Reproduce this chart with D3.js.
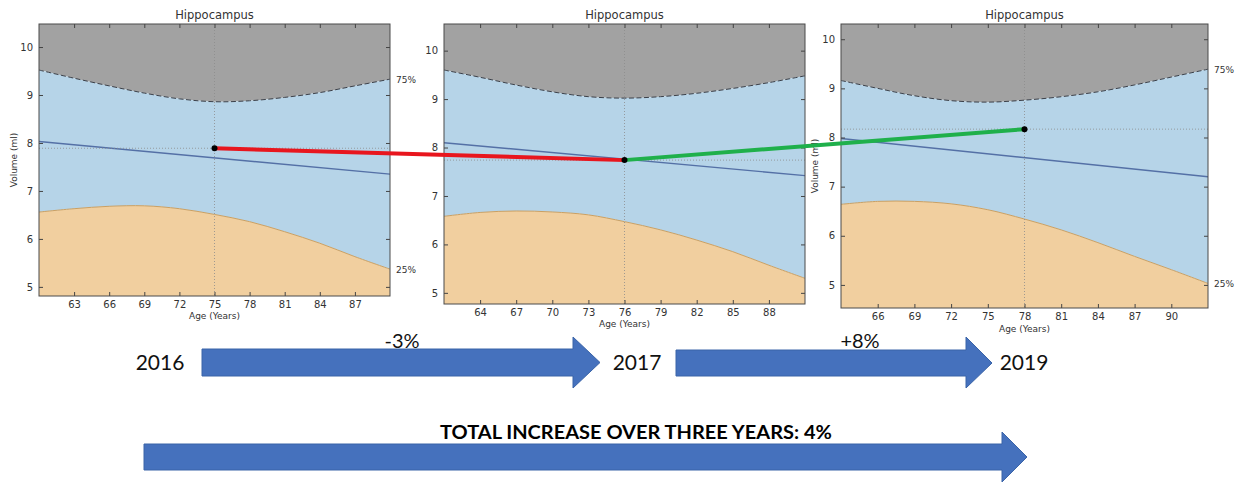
<!DOCTYPE html>
<html>
<head>
<meta charset="utf-8">
<script src="https://cdn.jsdelivr.net/npm/d3@7/dist/d3.min.js"></script>
<style>
  body { margin: 0; background: #fff; }
  svg { display: block; }
</style>
</head>
<body>
<svg id="chart" width="1253" height="483"></svg>
<script>
const ages2016 = [60, 63, 66, 69, 72, 75, 78, 81, 84, 87, 90];
const upper2016 = [9.52, 9.35, 9.19, 9.04, 8.92, 8.86, 8.88, 8.95, 9.05, 9.19, 9.33];
const lower2016 = [6.56, 6.63, 6.68, 6.69, 6.63, 6.51, 6.36, 6.15, 5.91, 5.63, 5.37];
const trend2016 = [8.03, 7.35];
const scan2016 = { age: 75, volume: 7.89 };
const xTicks2016 = [63, 66, 69, 72, 75, 78, 81, 84, 87];

const ages2017 = [61, 64, 67, 70, 73, 76, 79, 82, 85, 88, 91];
const upper2017 = [9.6, 9.45, 9.29, 9.15, 9.05, 9.02, 9.05, 9.12, 9.22, 9.34, 9.48];
const lower2017 = [6.58, 6.66, 6.69, 6.67, 6.61, 6.47, 6.3, 6.09, 5.85, 5.57, 5.3];
const trend2017 = [8.1, 7.42];
const scan2017 = { age: 76, volume: 7.74 };
const xTicks2017 = [64, 67, 70, 73, 76, 79, 82, 85, 88];

const ages2019 = [63, 66, 69, 72, 75, 78, 81, 84, 87, 90, 93];
const upper2019 = [9.16, 9.0, 8.85, 8.75, 8.72, 8.76, 8.83, 8.93, 9.07, 9.23, 9.39];
const lower2019 = [6.64, 6.7, 6.7, 6.65, 6.53, 6.34, 6.12, 5.86, 5.58, 5.31, 5.03];
const trend2019 = [7.98, 7.2];
const scan2019 = { age: 78, volume: 8.17 };
const xTicks2019 = [66, 69, 72, 75, 78, 81, 84, 87, 90];

const yTicks = [5, 6, 7, 8, 9, 10];
const years = ["2016", "2017", "2019"];
const changes = ["-3%", "+8%"];
const totalLabel = "TOTAL INCREASE OVER THREE YEARS: 4%";

// panel layout (pixel frames, axis extents)
const panels = [
  { ages: ages2016, upper: upper2016, lower: lower2016, trend: trend2016, scan: scan2016, xTicks: xTicks2016,
    xDomain: [60, 90], yDomain: [4.81, 10.48],
    left: 39, right: 390, top: 24, bottom: 296, labelY: 319, ylabelX: 17, pct: true, pctX: 396 },
  { ages: ages2017, upper: upper2017, lower: lower2017, trend: trend2017, scan: scan2017, xTicks: xTicks2017,
    xDomain: [61, 91], yDomain: [4.77, 10.55],
    left: 444, right: 805, top: 24, bottom: 304, labelY: 327, ylabelX: null, pct: false },
  { ages: ages2019, upper: upper2019, lower: lower2019, trend: trend2019, scan: scan2019, xTicks: xTicks2019,
    xDomain: [63, 93], yDomain: [4.53, 10.31],
    left: 841, right: 1208, top: 24, bottom: 308, labelY: 332, ylabelX: 818, pct: true, pctX: 1214 },
];

const svg = d3.select("#chart");
const mplFont = "DejaVu Sans, sans-serif";
const slideFont = "Lato, Liberation Sans, sans-serif";

const renderPanel = (p, i) => {
  const x = d3.scaleLinear().domain(p.xDomain).range([p.left, p.right]);
  const y = d3.scaleLinear().domain(p.yDomain).range([p.bottom, p.top]);
  p.x = x;
  p.y = y;
  const pts = p.ages.map((a, k) => ({ age: a, hi: p.upper[k], lo: p.lower[k] }));
  const g = svg.append("g");

  g.append("clipPath")
    .attr("id", `clip${i}`)
    .append("rect")
    .attr("x", p.left)
    .attr("y", p.top)
    .attr("width", p.right - p.left)
    .attr("height", p.bottom - p.top);
  const plot = g.append("g").attr("clip-path", `url(#clip${i})`);
  const curve = d3.curveCatmullRom;

  // grey above 75%, blue between, orange below 25%
  plot.append("path")
    .datum(pts)
    .attr("fill", "#a2a2a2")
    .attr("d", d3.area().curve(curve).x((d) => x(d.age)).y0(p.top).y1((d) => y(d.hi)));
  plot.append("path")
    .datum(pts)
    .attr("fill", "#b6d4e8")
    .attr("d", d3.area().curve(curve).x((d) => x(d.age)).y0((d) => y(d.lo)).y1((d) => y(d.hi)));
  plot.append("path")
    .datum(pts)
    .attr("fill", "#f1cf9f")
    .attr("d", d3.area().curve(curve).x((d) => x(d.age)).y0(p.bottom).y1((d) => y(d.lo)));

  plot.append("path")
    .datum(pts)
    .attr("fill", "none")
    .attr("stroke", "#3a3f48")
    .attr("stroke-width", 1)
    .attr("stroke-dasharray", "5,2.5")
    .attr("d", d3.line().curve(curve).x((d) => x(d.age)).y((d) => y(d.hi)));
  plot.append("path")
    .datum(pts)
    .attr("fill", "none")
    .attr("stroke", "#c9a064")
    .attr("stroke-width", 1)
    .attr("d", d3.line().curve(curve).x((d) => x(d.age)).y((d) => y(d.lo)));

  plot.append("line")
    .attr("x1", x(p.xDomain[0]))
    .attr("x2", x(p.xDomain[1]))
    .attr("y1", y(p.trend[0]))
    .attr("y2", y(p.trend[1]))
    .attr("stroke", "#5470a6")
    .attr("stroke-width", 1.4);

  // dotted crosshair through the scan
  plot.append("line")
    .attr("x1", x(p.scan.age)).attr("x2", x(p.scan.age))
    .attr("y1", p.top).attr("y2", p.bottom)
    .attr("stroke", "#8c8c8c").attr("stroke-width", 0.8).attr("stroke-dasharray", "1,2");
  plot.append("line")
    .attr("x1", p.left).attr("x2", p.right)
    .attr("y1", y(p.scan.volume)).attr("y2", y(p.scan.volume))
    .attr("stroke", "#8c8c8c").attr("stroke-width", 0.8).attr("stroke-dasharray", "1,2");

  // axes, ticks pointing inward
  const bottomAxis = g.append("g")
    .attr("transform", `translate(0,${p.bottom})`)
    .call(d3.axisBottom(x).tickValues(p.xTicks).tickSize(-4).tickPadding(5));
  const leftAxis = g.append("g")
    .attr("transform", `translate(${p.left},0)`)
    .call(d3.axisLeft(y).tickValues(yTicks).tickFormat(d3.format("d")).tickSize(-4).tickPadding(6));
  g.append("g")
    .attr("transform", `translate(0,${p.top})`)
    .call(d3.axisTop(x).tickValues(p.xTicks).tickSize(-4).tickFormat(""));
  g.append("g")
    .attr("transform", `translate(${p.right},0)`)
    .call(d3.axisRight(y).tickValues(yTicks).tickSize(-4).tickFormat(""));
  g.selectAll(".domain").remove();
  g.selectAll(".tick line").attr("stroke", "#444");
  [bottomAxis, leftAxis].forEach((a) =>
    a.selectAll("text").attr("font-family", mplFont).attr("font-size", 10).attr("fill", "#333")
  );

  g.append("rect")
    .attr("x", p.left)
    .attr("y", p.top)
    .attr("width", p.right - p.left)
    .attr("height", p.bottom - p.top)
    .attr("fill", "none")
    .attr("stroke", "#4a4a4a")
    .attr("stroke-width", 1);

  g.append("text")
    .attr("x", (p.left + p.right) / 2)
    .attr("y", p.top - 5)
    .attr("text-anchor", "middle")
    .attr("font-family", mplFont)
    .attr("font-size", 11.5)
    .attr("fill", "#333")
    .text("Hippocampus");
  g.append("text")
    .attr("x", (p.left + p.right) / 2)
    .attr("y", p.labelY)
    .attr("text-anchor", "middle")
    .attr("font-family", mplFont)
    .attr("font-size", 9)
    .attr("fill", "#333")
    .text("Age (Years)");
  if (p.ylabelX !== null) {
    g.append("text")
      .attr("transform", `translate(${p.ylabelX},${(p.top + p.bottom) / 2})rotate(-90)`)
      .attr("text-anchor", "middle")
      .attr("font-family", mplFont)
      .attr("font-size", 9)
      .attr("fill", "#333")
      .text("Volume (ml)");
  }
  if (p.pct) {
    const last = p.ages.length - 1;
    [["75%", p.upper[last]], ["25%", p.lower[last]]].forEach(([t, v]) => {
      g.append("text")
        .attr("x", p.pctX)
        .attr("y", y(v) + 4)
        .attr("font-family", mplFont)
        .attr("font-size", 9)
        .attr("fill", "#333")
        .text(t);
    });
  }
};

panels.forEach(renderPanel);

// red / green links between the scans
const scanPts = panels.map((p) => [p.x(p.scan.age), p.y(p.scan.volume)]);
const linkColors = ["#e8161e", "#1fb04b"];
d3.pairs(scanPts).forEach(([a, b], k) => {
  svg.append("line")
    .attr("x1", a[0]).attr("y1", a[1])
    .attr("x2", b[0]).attr("y2", b[1])
    .attr("stroke", linkColors[k])
    .attr("stroke-width", 4);
});
svg.selectAll(".scan")
  .data(scanPts)
  .join("circle")
  .attr("class", "scan")
  .attr("cx", (d) => d[0])
  .attr("cy", (d) => d[1])
  .attr("r", 3)
  .attr("fill", "#000");

// block arrows underneath
const arrowPath = (x0, x1, tip, yTop, yBot, headTop, headBot) => {
  const mid = (yTop + yBot) / 2;
  return `M${x0},${yTop}L${x1},${yTop}L${x1},${headTop}L${tip},${mid}L${x1},${headBot}L${x1},${yBot}L${x0},${yBot}Z`;
};
const arrows = [
  [202, 573, 600, 349, 376, 337, 388],
  [676, 966, 992, 350, 376, 337, 388],
  [144, 1002, 1027, 444, 470, 432, 482],
];
svg.selectAll(".arrow")
  .data(arrows)
  .join("path")
  .attr("class", "arrow")
  .attr("d", (d) => arrowPath(...d))
  .attr("fill", "#4571bd")
  .attr("stroke", "#3a64a8")
  .attr("stroke-width", 1);

const yearX = [160, 637, 1024];
svg.selectAll(".year")
  .data(years)
  .join("text")
  .attr("class", "year")
  .attr("x", (d, k) => yearX[k])
  .attr("y", 370)
  .attr("text-anchor", "middle")
  .attr("font-family", slideFont)
  .attr("font-size", 21)
  .attr("fill", "#111")
  .text((d) => d);

const changeX = [402, 860];
svg.selectAll(".change")
  .data(changes)
  .join("text")
  .attr("class", "change")
  .attr("x", (d, k) => changeX[k])
  .attr("y", 348)
  .attr("text-anchor", "middle")
  .attr("font-family", slideFont)
  .attr("font-size", 20)
  .attr("fill", "#111")
  .text((d) => d);

svg.append("text")
  .attr("x", 440)
  .attr("y", 439)
  .attr("font-family", slideFont)
  .attr("font-weight", "bold")
  .attr("font-size", 19)
  .attr("textLength", 392)
  .attr("lengthAdjust", "spacingAndGlyphs")
  .attr("fill", "#000")
  .text(totalLabel);
</script>
</body>
</html>
